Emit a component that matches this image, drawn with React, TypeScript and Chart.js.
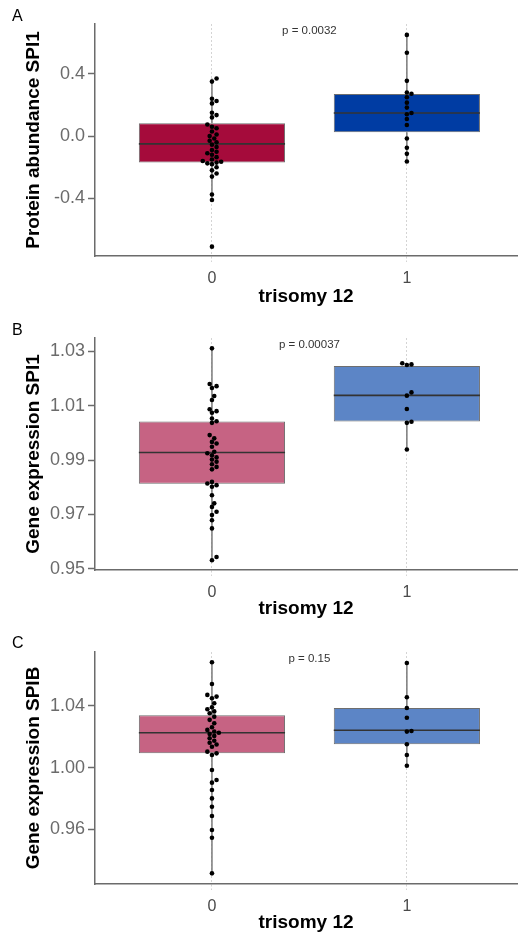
import React, { useEffect, useRef } from "react";
import { Chart, registerables } from "chart.js";
Chart.register(...registerables);

const FONT = "'Liberation Sans', Arial, Helvetica, sans-serif";

// categories
const groups = [0, 1];
const xTickLabels = ["0", "1"];
const xTitle = "trisomy 12";

// ---------- Panel A : Protein abundance SPI1 ----------
const aTicks = [-0.4, 0, 0.4];
const aG0 = [0.37, 0.35, 0.24, 0.225, 0.21, 0.15, 0.135, 0.12, 0.075, 0.06, 0.05, 0.03, 0.01, 0.0, -0.015, -0.03, -0.04, -0.055, -0.07, -0.09, -0.1, -0.11, -0.12, -0.135, -0.15, -0.16, -0.165, -0.17, -0.175, -0.18, -0.2, -0.22, -0.24, -0.26, -0.375, -0.41, -0.71];
const aG1 = [0.65, 0.535, 0.355, 0.28, 0.272, 0.25, 0.215, 0.183, 0.148, 0.14, 0.11, 0.071, -0.015, -0.075, -0.114, -0.163];
// lo, q1, median, q3, hi
const aStats0 = [-0.41, -0.17, -0.05, 0.083, 0.37];
const aStats1 = [-0.163, 0.024, 0.148, 0.27, 0.65];

// ---------- Panel B : Gene expression SPI1 ----------
const bTicks = [0.95, 0.97, 0.99, 1.01, 1.03];
const bG0 = [1.0311, 1.018, 1.0172, 1.0165, 1.0136, 1.0121, 1.0087, 1.008, 1.0074, 1.0053, 1.0043, 1.0037, 0.9992, 0.998, 0.9967, 0.9961, 0.9949, 0.9931, 0.9925, 0.9918, 0.991, 0.9902, 0.9894, 0.9885, 0.9875, 0.9866, 0.982, 0.9814, 0.9808, 0.9802, 0.9771, 0.9741, 0.9728, 0.971, 0.9698, 0.9679, 0.9649, 0.9544, 0.9532];
const bG1 = [1.0256, 1.0252, 1.025, 1.0149, 1.0137, 1.0088, 1.0041, 1.0037, 0.9939];
const bStats0 = [0.9532, 0.9813, 0.9928, 1.0042, 1.0311];
const bStats1 = [0.9939, 1.0042, 1.0138, 1.0246, 1.0256];

// ---------- Panel C : Gene expression SPIB ----------
const cTicks = [0.96, 1.0, 1.04];
const cG0 = [1.0684, 1.0543, 1.0472, 1.0461, 1.045, 1.0418, 1.0392, 1.0379, 1.0365, 1.0353, 1.0331, 1.031, 1.0288, 1.0262, 1.0245, 1.0235, 1.0227, 1.0219, 1.0206, 1.0191, 1.0175, 1.0162, 1.015, 1.0136, 1.0104, 1.0093, 1.0082, 0.9985, 0.992, 0.9903, 0.9855, 0.9801, 0.9747, 0.9687, 0.9596, 0.9546, 0.9315];
const cG1 = [1.0679, 1.0457, 1.0387, 1.0324, 1.0238, 1.0234, 1.0152, 1.0082, 1.0013];
const cStats0 = [0.9315, 1.0093, 1.0227, 1.034, 1.0684];
const cStats1 = [1.0013, 1.0152, 1.0243, 1.0387, 1.0679];

type PanelCfg = {
  letter: string; yTitle: string; pText: string;
  yMin: number; yMax: number; yTicks: number[]; yDec: number;
  g0: number[]; g1: number[]; s0: number[]; s1: number[];
  c0: string; c1: string;
  top: number; height: number; padTop: number; xAxisH: number; titlePad: number; letterY: number;
};

const X_MIN = -0.6;
const X_MAX = 1.565;
const LEFT = 95;
const RIGHT_PAD = 2;
const W = 521;

const panels: PanelCfg[] = [
  { letter: "A", yTitle: "Protein abundance SPI1", pText: "p = 0.0032", yMin: -0.77, yMax: 0.72, yTicks: aTicks, yDec: 1,
    g0: aG0, g1: aG1, s0: aStats0, s1: aStats1, c0: "#A50B3B", c1: "#003CA3",
    top: 0, height: 310, padTop: 24, xAxisH: 54, titlePad: 2, letterY: 17 },
  { letter: "B", yTitle: "Gene expression SPI1", pText: "p = 0.00037", yMin: 0.9496, yMax: 1.0349, yTicks: bTicks, yDec: 2,
    g0: bG0, g1: bG1, s0: bStats0, s1: bStats1, c0: "#C66383", c1: "#5C85C6",
    top: 310, height: 310, padTop: 28, xAxisH: 50, titlePad: 0, letterY: 21 },
  { letter: "C", yTitle: "Gene expression SPIB", pText: "p = 0.15", yMin: 0.9246, yMax: 1.075, yTicks: cTicks, yDec: 2,
    g0: cG0, g1: cG1, s0: cStats0, s1: cStats1, c0: "#C66383", c1: "#5C85C6",
    top: 620, height: 317, padTop: 32, xAxisH: 53, titlePad: 3, letterY: 24 },
];

function swarm(vals: number[], center: number, yPx: number, xPx: number) {
  const d = 4.2;
  const placed: { x: number; y: number }[] = [];
  const order = vals.map((_, i) => i).sort((a, b) => vals[a] - vals[b]);
  const res: { x: number; y: number }[] = new Array(vals.length);
  for (const i of order) {
    const y = vals[i] * yPx;
    let off = 0;
    for (let k = 0; k < 30; k++) {
      const cand = k === 0 ? 0 : (k % 2 === 1 ? 1 : -1) * Math.ceil(k / 2) * d * 0.55;
      if (placed.every((p) => Math.hypot(p.x - cand, p.y - y) >= d)) { off = cand; break; }
    }
    placed.push({ x: off, y });
    res[i] = { x: center + off / xPx, y: vals[i] };
  }
  return res;
}

function PanelChart({ cfg }: { cfg: PanelCfg }) {
  const ref = useRef<HTMLCanvasElement | null>(null);
  useEffect(() => {
    if (!ref.current) return;
    const plotH = cfg.height - cfg.padTop - cfg.xAxisH;
    const plotW = W - LEFT - RIGHT_PAD;
    const yPx = plotH / (cfg.yMax - cfg.yMin);
    const xPx = plotW / (X_MAX - X_MIN);
    const halfBox = 0.375;
    const stats = [cfg.s0, cfg.s1];
    const pts = [cfg.g0, cfg.g1];
    const datasets: any[] = [];
    datasets.push({
      type: "bar",
      data: groups.map((g, i) => ({ x: g, y: [stats[i][1], stats[i][3]] })),
      backgroundColor: [cfg.c0, cfg.c1],
      borderColor: "#6e6e6e",
      borderWidth: 1,
      borderSkipped: false,
      categoryPercentage: 1,
      barPercentage: 0.75,
      order: 5,
    });
    groups.forEach((g, i) => {
      const s = stats[i];
      datasets.push({ type: "line", data: [{ x: g, y: s[3] }, { x: g, y: s[4] }], borderColor: "#7a7a7a", borderWidth: 1.5, pointRadius: 0, order: 4 });
      datasets.push({ type: "line", data: [{ x: g, y: s[0] }, { x: g, y: s[1] }], borderColor: "#7a7a7a", borderWidth: 1.5, pointRadius: 0, order: 4 });
      datasets.push({ type: "line", data: [{ x: g - halfBox, y: s[2] }, { x: g + halfBox, y: s[2] }], borderColor: "#333333", borderWidth: 1.6, pointRadius: 0, order: 3 });
      datasets.push({ type: "scatter", data: swarm(pts[i], g, yPx, xPx), backgroundColor: "#000", borderWidth: 0, pointRadius: 2.3, order: 1 });
    });
    const textPlugin = {
      id: "panelText",
      afterDraw(chart: any) {
        const ctx = chart.ctx;
        ctx.save();
        ctx.fillStyle = "#000";
        ctx.font = `16px ${FONT}`;
        ctx.textAlign = "left";
        ctx.textBaseline = "middle";
        ctx.fillText(cfg.letter, 12, cfg.letterY);
        ctx.fillStyle = "#333";
        ctx.font = `11.5px ${FONT}`;
        ctx.textAlign = "center";
        ctx.fillText(cfg.pText, chart.scales.x.getPixelForValue(0.5), chart.chartArea.top + 7);
        ctx.restore();
      },
    };
    const chart = new Chart(ref.current, {
      type: "bar",
      data: { datasets },
      plugins: [textPlugin],
      options: {
        animation: false,
        responsive: false,
        devicePixelRatio: 1,
        layout: { padding: { top: cfg.padTop, right: RIGHT_PAD, left: 0, bottom: 0 } },
        plugins: { legend: { display: false }, tooltip: { enabled: false }, title: { display: false } },
        scales: {
          x: {
            type: "linear",
            offset: false,
            min: X_MIN,
            max: X_MAX,
            afterBuildTicks: (s: any) => { s.ticks = groups.map((v) => ({ value: v })); },
            afterFit: (s: any) => { s.height = cfg.xAxisH; },
            ticks: {
              callback: (v: any) => xTickLabels[groups.indexOf(Number(v))] ?? "",
              font: { family: FONT, size: 16 },
              color: "#4a4a4a",
              padding: 7,
              maxRotation: 0,
            },
            grid: { offset: false, color: "#d4d4d4", lineWidth: 1, drawOnChartArea: true, drawTicks: true, tickLength: 6, tickColor: "#d4d4d4", tickBorderDash: [2, 2] },
            border: { color: "#6b6b6b", width: 1.5, dash: [2, 2] },
            title: { display: true, text: xTitle, color: "#000", font: { family: FONT, size: 19, weight: "bold", lineHeight: 1.2 }, padding: { top: 0, bottom: cfg.titlePad } },
          },
          y: {
            type: "linear",
            min: cfg.yMin,
            max: cfg.yMax,
            afterBuildTicks: (s: any) => { s.ticks = cfg.yTicks.map((v) => ({ value: v })); },
            afterFit: (s: any) => { s.width = LEFT; },
            ticks: {
              callback: (v: any) => Number(v).toFixed(cfg.yDec),
              font: { family: FONT, size: 18 },
              color: "#6b6b6b",
              padding: 3,
            },
            grid: { drawOnChartArea: false, drawTicks: true, tickLength: 7, tickColor: "#6b6b6b", tickWidth: 1.5 },
            border: { color: "#6b6b6b", width: 1.5 },
            title: { display: true, text: cfg.yTitle, color: "#000", font: { family: FONT, size: 19, weight: "bold", lineHeight: 1.2 }, padding: { top: 22, bottom: 0 } },
          },
        },
      } as any,
    });
    return () => chart.destroy();
  }, [cfg]);
  return (
    <div style={{ position: "absolute", left: 0, top: cfg.top, width: W, height: cfg.height }}>
      <canvas ref={ref} width={W} height={cfg.height} style={{ width: W, height: cfg.height, display: "block" }} />
    </div>
  );
}

export default function App() {
  return (
    <div style={{ position: "absolute", left: 0, top: 0, width: W, height: 937, background: "#fff" }}>
      {panels.map((p) => (
        <PanelChart key={p.letter} cfg={p} />
      ))}
    </div>
  );
}
